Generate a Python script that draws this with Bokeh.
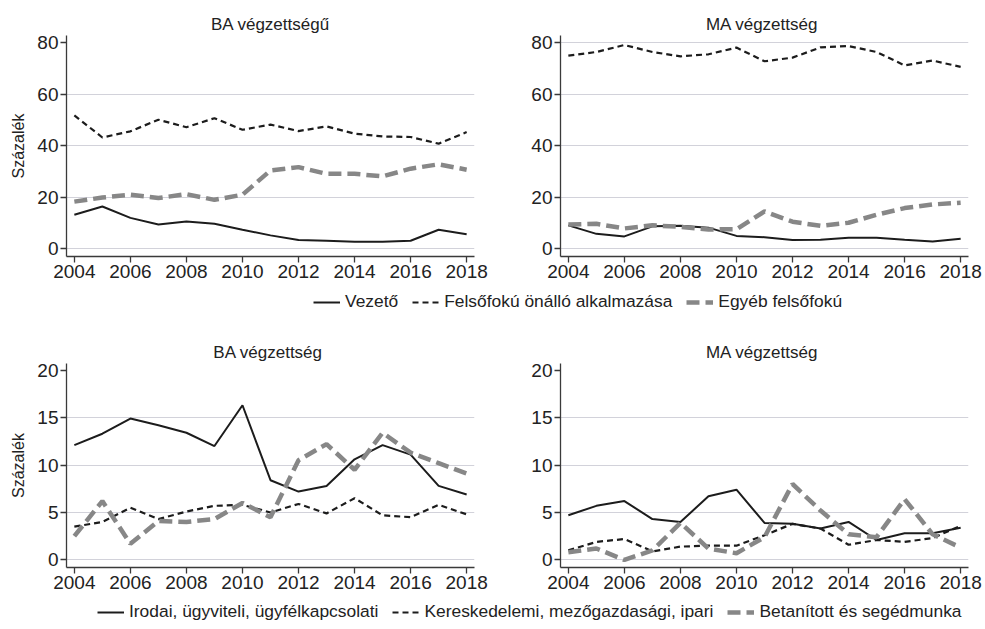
from bokeh.plotting import figure
from bokeh.layouts import column, row
from bokeh.models import Range1d, FixedTicker, Legend, LegendItem
from bokeh.embed import file_html
from bokeh.resources import INLINE

# ---------------- data ----------------
years = list(range(2004, 2019))
x_ticks = [2004, 2006, 2008, 2010, 2012, 2014, 2016, 2018]

top_labels = ["Vezető", "Felsőfokú önálló alkalmazása", "Egyéb felsőfokú"]
bottom_labels = ["Irodai, ügyviteli, ügyfélkapcsolati",
                 "Kereskedelemi, mezőgazdasági, ipari",
                 "Betanított és segédmunka"]

ba_vezeto = [13.2, 16.4, 12.0, 9.4, 10.6, 9.7, 7.4, 5.2, 3.4, 3.1, 2.7, 2.7, 3.1, 7.4, 5.6]
ba_felsofoku = [51.8, 43.2, 45.6, 50.1, 47.2, 50.7, 46.2, 48.2, 45.7, 47.5, 44.7, 43.6, 43.4, 40.8, 45.3]
ba_egyeb = [18.3, 19.9, 21.0, 19.7, 21.2, 19.0, 21.0, 30.4, 31.7, 29.1, 29.1, 28.1, 31.1, 32.8, 30.7]

ma_vezeto = [9.1, 5.8, 4.8, 8.7, 8.9, 8.2, 5.0, 4.5, 3.4, 3.5, 4.3, 4.3, 3.5, 2.8, 3.9]
ma_felsofoku = [75.0, 76.4, 79.1, 76.4, 74.7, 75.5, 78.1, 72.8, 74.2, 78.2, 78.7, 76.4, 71.2, 73.1, 70.6]
ma_egyeb = [9.4, 9.7, 7.9, 9.1, 8.5, 7.5, 7.6, 14.5, 10.5, 8.9, 10.1, 13.2, 15.8, 17.2, 17.9]

ba_irodai = [12.1, 13.3, 14.9, 14.2, 13.4, 12.0, 16.3, 8.4, 7.2, 7.8, 10.6, 12.1, 11.1, 7.8, 6.9]
ba_keresk = [3.5, 4.0, 5.5, 4.3, 5.1, 5.7, 5.8, 5.0, 5.9, 4.9, 6.5, 4.7, 4.5, 5.8, 4.8]
ba_betan = [2.5, 6.2, 1.7, 4.1, 4.0, 4.3, 6.0, 4.5, 10.5, 12.2, 9.5, 13.4, 11.3, 10.2, 9.1]

ma_irodai = [4.7, 5.7, 6.2, 4.3, 4.0, 6.7, 7.4, 3.9, 3.8, 3.3, 4.0, 2.1, 2.8, 2.8, 3.4]
ma_keresk = [1.0, 1.9, 2.2, 0.9, 1.4, 1.5, 1.5, 2.6, 3.8, 3.3, 1.6, 2.1, 1.9, 2.3, 3.6]
ma_betan = [0.8, 1.2, 0.0, 1.0, 3.9, 1.2, 0.7, 2.4, 8.0, 5.2, 2.7, 2.4, 6.4, 2.7, 1.3]

top_yticks = [0, 20, 40, 60, 80]
bottom_yticks = [0, 5, 10, 15, 20]

# ---------------- style ----------------
FONT = "Liberation Sans"
TXT = "#222222"
AX = "#3a3a3a"
BLACK = "#1c1c1c"
GRAY = "#878787"
GRID = "#d2d2da"

W = 408
L1, R1 = 66, 16
L2, R2 = 70, 17
TOTAL_W = L1 + W + R1 + L2 + W + R2

STYLES = [
    dict(line_color=BLACK, line_width=2.0),
    dict(line_color=BLACK, line_width=2.2, line_dash="6 4"),
    dict(line_color=GRAY, line_width=4.5, line_dash="13 6"),
]


def panel(title, series, ylabel, yticks, gridticks, yr, frame_h, left, right, top, bottom):
    p = figure(width=left + W + right, height=top + frame_h + bottom,
               x_range=Range1d(2003.72, 2018.28), y_range=Range1d(*yr),
               output_backend="svg", toolbar_location=None,
               min_border_left=left, min_border_right=right,
               min_border_top=top, min_border_bottom=bottom)
    p.title.text = title
    p.title.align = "center"
    p.title.text_font = FONT
    p.title.text_font_size = "17px"
    p.title.text_font_style = "normal"
    p.title.text_color = TXT
    p.title.standoff = 4
    p.outline_line_color = None
    p.background_fill_color = "white"
    p.border_fill_color = "white"

    p.xaxis.ticker = FixedTicker(ticks=x_ticks)
    p.yaxis.ticker = FixedTicker(ticks=yticks)
    for ax in (p.xaxis[0], p.yaxis[0]):
        ax.axis_line_color = AX
        ax.axis_line_width = 1.3
        ax.major_tick_line_color = AX
        ax.major_tick_line_width = 1.3
        ax.major_tick_out = 6
        ax.major_tick_in = 0
        ax.minor_tick_line_color = None
        ax.major_label_text_font = FONT
        ax.major_label_text_font_size = "19px"
        ax.major_label_text_color = TXT
    p.xaxis.major_label_standoff = 2
    p.yaxis.major_label_standoff = 2
    if ylabel:
        p.yaxis.axis_label = ylabel
        p.yaxis.axis_label_text_font = FONT
        p.yaxis.axis_label_text_font_size = "16px"
        p.yaxis.axis_label_text_font_style = "normal"
        p.yaxis.axis_label_text_color = TXT
        p.yaxis.axis_label_standoff = 7

    p.xgrid.visible = False
    p.ygrid.ticker = FixedTicker(ticks=gridticks)
    p.ygrid.grid_line_color = GRID
    p.ygrid.grid_line_width = 1

    for s, st in zip(series, STYLES):
        p.line(years, s, **st)
    return p


def legend_fig(labels, x, y, h):
    q = figure(width=TOTAL_W, height=h, x_range=Range1d(0, 1), y_range=Range1d(0, 1),
               output_backend="svg", toolbar_location=None,
               x_axis_type=None, y_axis_type=None,
               min_border_left=0, min_border_right=0, min_border_top=0, min_border_bottom=0)
    q.grid.visible = False
    q.outline_line_color = None
    items = []
    for lab, st in zip(labels, STYLES):
        r = q.line(x=[float("nan")], y=[float("nan")], **st)
        items.append(LegendItem(label=lab, renderers=[r]))
    leg = Legend(items=items, location=(x, y), orientation="horizontal",
                 padding=0, margin=0, spacing=14, glyph_width=27, glyph_height=20,
                 label_standoff=5, label_text_font=FONT, label_text_font_size="17.4px",
                 label_text_color=TXT, border_line_color=None, background_fill_alpha=0)
    q.add_layout(leg, "center")
    return q


p1 = panel("BA végzettségű", [ba_vezeto, ba_felsofoku, ba_egyeb], "Százalék",
           top_yticks, [0, 20, 40, 60], (-3.0, 82.8), 221, L1, R1, 35, 30)
p2 = panel("MA  végzettség", [ma_vezeto, ma_felsofoku, ma_egyeb], None,
           top_yticks, [0, 20, 40, 60, 80], (-3.0, 82.8), 221, L2, R2, 35, 30)
p3 = panel("BA  végzettség", [ba_irodai, ba_keresk, ba_betan], "Százalék",
           bottom_yticks, [0, 5, 10, 15], (-0.8, 20.7), 204, L1, R1, 28, 28)
p4 = panel("MA  végzettség", [ma_irodai, ma_keresk, ma_betan], None,
           bottom_yticks, [0, 5, 10, 15], (-0.8, 20.7), 204, L2, R2, 28, 28)

leg1 = legend_fig(top_labels, 313, 23, 49)
leg2 = legend_fig(bottom_labels, 97, 5, 32)

layout = column(row(p1, p2), leg1, row(p3, p4), leg2)

open("out.html", "w").write(file_html(layout, INLINE))
